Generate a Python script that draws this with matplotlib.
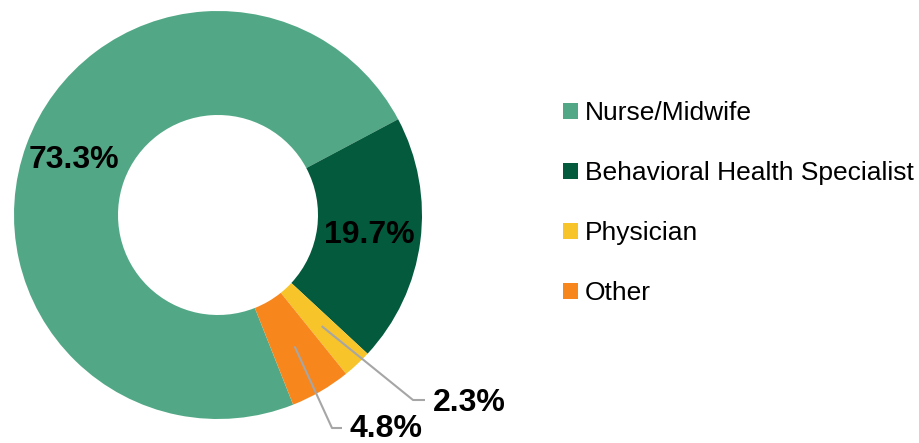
import numpy as np
import matplotlib.pyplot as plt
from matplotlib.patches import Patch

plt.rcParams['font.family'] = ['Liberation Sans', 'DejaVu Sans']

# --- data ---
categories = ["Nurse/Midwife", "Behavioral Health Specialist", "Physician", "Other"]
shares = [73.3, 19.7, 2.3, 4.8]
colors = ["#52A886", "#035A3C", "#F7C42A", "#F7861C"]

# --- figure in pixel-like data units ---
fig = plt.figure(figsize=(9.2, 4.43), dpi=100)
ax = fig.add_axes([0, 0, 1, 1])

cx, cy, R, ring = 218, 228, 204, 104
start = 28 + 360 * shares[0] / sum(shares)

wedges, _ = ax.pie(shares, colors=colors, center=(cx, cy), radius=R,
                   startangle=start, counterclock=False,
                   wedgeprops=dict(width=ring, linewidth=0))
ax.set_xlim(0, 920)
ax.set_ylim(0, 443)
ax.set_aspect('equal')
ax.axis('off')

lbl = dict(fontsize=23, fontweight='bold', color='black')
labels = [f"{v:.1f}%" for v in shares]

# inside labels
ax.text(74, 283, labels[0], ha='center', va='center', **lbl)
ax.text(369, 208, labels[1], ha='center', va='center', **lbl)

# outside labels with leader lines
outside = {2: (413, 43, 433, 40), 3: (332, 15, 350, 14)}
for i, (ex, ey, tx, ty) in outside.items():
    w = wedges[i]
    mid = np.deg2rad((w.theta1 + w.theta2) / 2)
    rm = R - ring / 2
    sx, sy = cx + rm * np.cos(mid), cy + rm * np.sin(mid)
    ax.plot([sx, ex, tx - 8], [sy, ey, ey], color="#A6A6A6", lw=1.5,
            solid_capstyle='butt')
    ax.text(tx, ty, labels[i], ha='left', va='center', **lbl)

handles = [Patch(facecolor=c, edgecolor='none') for c in colors]
ax.legend(handles, categories, loc='upper left', bbox_to_anchor=(0.612, 0.772),
          frameon=False, fontsize=19, handlelength=0.57, handleheight=0.57,
          handletextpad=0.27, labelspacing=1.37, borderaxespad=0,
          borderpad=0)

plt.savefig("out.png", dpi=100)
